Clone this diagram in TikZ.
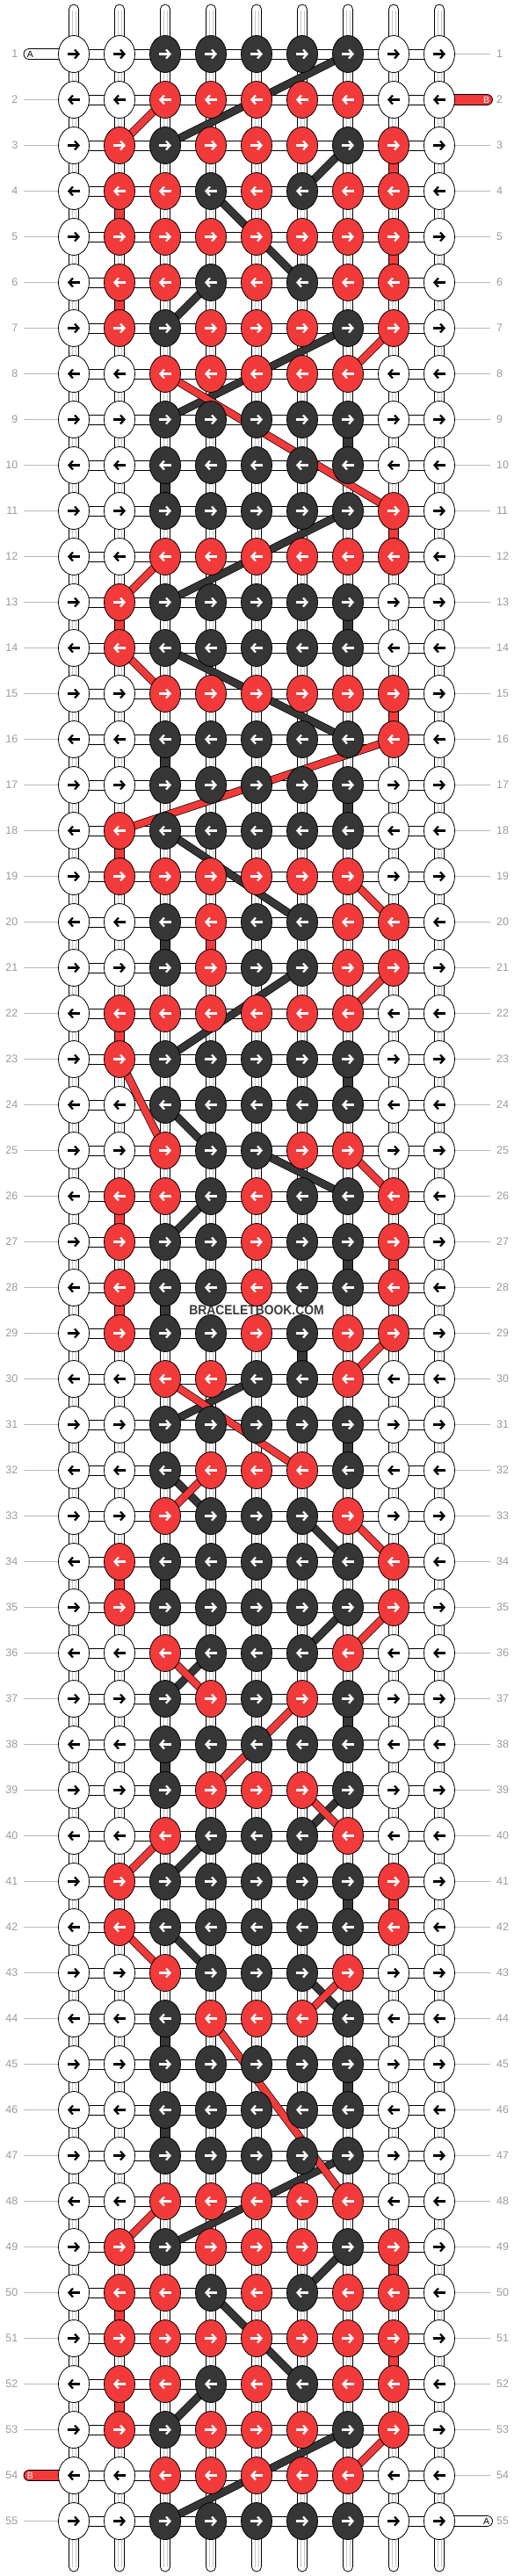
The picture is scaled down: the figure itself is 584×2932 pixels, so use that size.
\documentclass[tikz,border=0pt]{standalone}
\usepackage{fontspec}
\setmainfont{Liberation Sans}
\usetikzlibrary{shapes.geometric,arrows.meta}
\definecolor{bbred}{HTML}{F23A3A}
\definecolor{bbdark}{HTML}{363636}
\definecolor{lblgray}{HTML}{9A9A9A}
\definecolor{markgray}{HTML}{3C3C3C}
\pgfdeclarelayer{back}
\pgfdeclarelayer{mid}
\pgfsetlayers{back,mid,main}
\tikzset{
  knot/.style={ellipse,draw=black,line width=0.8pt,minimum width=35pt,minimum height=42pt,inner sep=0pt},
  knotw/.style={fill=white}, knotr/.style={fill=bbred}, knotd/.style={fill=bbdark},
  arrw/.style={draw=black}, arrr/.style={draw=white}, arrd/.style={draw=white},
  dir/.style={line width=2.2pt,-{Straight Barb[length=4.5pt,width=10pt]}},
  rod/.style={draw=black,line width=0.8pt,fill=white},
  core/.style={draw=black!22,line width=0.6pt},
  vlink/.style={draw=black,line width=0.8pt},
  strandr/.style={draw=black,line width=0.7pt,double=bbred,double distance=7.6pt},
  strandd/.style={draw=black,line width=0.7pt,double=bbdark,double distance=7.6pt},
  tail/.style={draw=black,line width=0.8pt,rounded corners=6pt},
  tailtxt/.style={font=\fontsize{10.5}{10.5}\selectfont,inner sep=0pt},
  lbl/.style={text=lblgray,font=\fontsize{12.5}{12.5}\selectfont,inner sep=0pt},
  lblline/.style={draw=black!28,line width=0.9pt},
}
\begin{document}
\begin{tikzpicture}[x=1pt,y=-1pt]
\useasboundingbox (0,0) rectangle (584,2932);
% knots, one list per row
\foreach \knots [count=\r] in {
 {w,w,d,d,d,d,d,w,w},{w,w,r,r,r,r,r,w,w},{w,r,d,r,r,r,d,r,w},{w,r,r,d,r,d,r,r,w},
 {w,r,r,r,r,r,r,r,w},{w,r,r,d,r,d,r,r,w},{w,r,d,r,r,r,d,r,w},{w,w,r,r,r,r,r,w,w},
 {w,w,d,d,d,d,d,w,w},{w,w,d,d,d,d,d,w,w},{w,w,d,d,d,d,d,r,w},{w,w,r,r,r,r,r,r,w},
 {w,r,d,d,d,d,d,w,w},{w,r,d,d,d,d,d,w,w},{w,w,r,r,r,r,r,r,w},{w,w,d,d,d,d,d,r,w},
 {w,w,d,d,d,d,d,w,w},{w,r,d,d,d,d,d,w,w},{w,r,r,r,r,r,r,w,w},{w,w,d,r,d,d,r,r,w},
 {w,w,d,r,d,d,r,r,w},{w,r,r,r,r,r,r,w,w},{w,r,d,d,d,d,d,w,w},{w,w,d,d,d,d,d,w,w},
 {w,w,r,d,d,r,r,w,w},{w,r,r,d,r,d,d,r,w},{w,r,d,d,r,d,d,r,w},{w,r,d,d,r,d,d,r,w},
 {w,r,d,d,r,d,r,r,w},{w,w,r,r,d,d,r,w,w},{w,w,d,d,d,d,d,w,w},{w,w,d,r,r,r,d,w,w},
 {w,w,r,d,d,d,r,w,w},{w,r,d,d,d,d,d,r,w},{w,r,d,d,d,d,d,r,w},{w,w,r,d,d,d,r,w,w},
 {w,w,d,r,d,r,d,w,w},{w,w,d,d,d,d,d,w,w},{w,w,d,r,r,r,d,w,w},{w,w,r,d,d,d,r,w,w},
 {w,r,d,d,d,d,d,r,w},{w,r,d,d,d,d,d,r,w},{w,w,r,d,d,d,r,w,w},{w,w,d,r,r,r,d,w,w},
 {w,w,d,d,d,d,d,w,w},{w,w,d,d,d,d,d,w,w},{w,w,d,d,d,d,d,w,w},{w,w,r,r,r,r,r,w,w},
 {w,r,d,r,r,r,d,r,w},{w,r,r,d,r,d,r,r,w},{w,r,r,r,r,r,r,r,w},{w,r,r,d,r,d,r,r,w},
 {w,r,d,r,r,r,d,r,w},{w,w,r,r,r,r,r,w,w},{w,w,d,d,d,d,d,w,w}}{
  \foreach \k [count=\c] in \knots {
    \node[knot,knot\k] (k-\r-\c) at ({84+52*(\c-1)},{61.5+52*(\r-1)}) {};
    \ifodd\r\relax
      \draw[dir,arr\k] (k-\r-\c.center) ++(-7,0) -- ++(14,0);
    \else
      \draw[dir,arr\k] (k-\r-\c.center) ++(7,0) -- ++(-14,0);
    \fi
  }
}
\begin{pgfonlayer}{back}
\foreach \c in {1,...,9}{
  \draw[rod,rounded corners=5.5pt] (k-1-\c.center) ++(-5.5,-56.5) rectangle ++(11,2922);
  \draw[core] (k-1-\c.center) ++(-1.8,-50) -- ++(0,2910);
  \draw[core] (k-1-\c.center) ++(1.8,-50) -- ++(0,2910);
}
\foreach \r in {1,...,55}
  \draw[rod] ([yshift=5.5pt]k-\r-1.center) rectangle ([yshift=-5.5pt]k-\r-9.center);
\foreach \r/\c/\col [evaluate=\r as \rn using int(\r+1)] in {
  3/8/bbred,4/2/bbred,5/8/bbred,6/2/bbred,9/7/bbdark,10/3/bbdark,11/8/bbred,
  13/2/bbred,13/7/bbdark,15/8/bbred,16/3/bbdark,17/7/bbdark,18/2/bbred,
  20/3/bbdark,20/4/bbred,22/2/bbred,23/7/bbdark,26/2/bbred,27/7/bbdark,
  27/8/bbred,28/2/bbred,28/3/bbdark,29/6/bbdark,31/7/bbdark,34/2/bbred,
  34/3/bbdark,37/7/bbdark,38/3/bbdark,41/7/bbdark,41/8/bbred,44/3/bbdark,
  45/7/bbdark,46/3/bbdark,49/8/bbred,50/2/bbred,51/8/bbred,52/2/bbred}
  \draw[vlink,fill=\col] ([xshift=-5.5pt]k-\r-\c.center) rectangle ([xshift=5.5pt]k-\rn-\c.center);
% loose ends
\coordinate (endA) at (27,61.5);
\coordinate (endB) at (560.5,113.5);
\coordinate (endBb) at (27,2817.5);
\coordinate (endAb) at (560.5,2869.5);
\draw[tail,fill=white] ([yshift=6pt]endA) rectangle ([yshift=-6pt]k-1-1.center);
\draw[tail,fill=bbred] ([yshift=6pt]k-2-9.center) rectangle ([yshift=-6pt]endB);
\draw[tail,fill=bbred] ([yshift=6pt]endBb) rectangle ([yshift=-6pt]k-54-1.center);
\draw[tail,fill=white] ([yshift=6pt]k-55-9.center) rectangle ([yshift=-6pt]endAb);
\node[tailtxt,text=black] (tA) at (34.5,61.5) {A};
\node[tailtxt,text=white] (tB) at (553.5,113.5) {B};
\node[tailtxt,text=white] (tBb) at (34.5,2817.5) {B};
\node[tailtxt,text=black] (tAb) at (553.5,2869.5) {A};
\end{pgfonlayer}
\begin{pgfonlayer}{mid}
\foreach \a/\b/\c/\d in {1/7/3/3,3/7/4/6,4/4/6/6,6/4/7/3,7/7/9/3,11/7/13/3,
  14/3/16/7,18/3/20/6,21/6/23/3,24/3/25/4,25/5/26/7,26/4/27/3,30/5/31/3,
  32/3/33/4,33/6/34/7,35/7/36/6,36/4/37/3,39/7/40/6,40/4/41/3,42/3/43/4,
  43/6/44/7,47/7/49/3,49/7/50/6,50/4/52/6,52/4/53/3,53/7/55/3}
  \draw[strandd] (k-\a-\b.center) -- (k-\c-\d.center);
\foreach \a/\b/\c/\d in {2/3/3/2,7/8/8/7,8/3/11/8,12/3/13/2,14/2/15/3,
  16/8/18/2,19/7/20/8,21/8/22/7,23/2/25/3,25/7/26/8,29/8/30/7,30/3/32/6,
  32/4/33/3,33/7/34/8,35/8/36/7,36/3/37/4,37/6/39/4,39/6/40/7,40/3/41/2,
  42/2/43/3,43/7/44/6,44/4/48/7,48/3/49/2,53/8/54/7}
  \draw[strandr] (k-\a-\b.center) -- (k-\c-\d.center);
\node[fill=white,inner sep=1pt,text=markgray,xscale=0.9,
  font=\bfseries\fontsize{15.4}{16}\selectfont] (mark) at (292,1491.5) {BRACELETBOOK.COM};
\end{pgfonlayer}
% row numbers
\foreach \r in {1,...,55}{
  \node[lbl,anchor=east] (nl-\r) at (20.5,{61.5+52*(\r-1)}) {\r};
  \node[lbl,anchor=west] (nr-\r) at (565,{61.5+52*(\r-1)}) {\r};
}
\foreach \r in {2,...,53,55}
  \draw[lblline] ([xshift=6.5pt]nl-\r.east) -- (k-\r-1.west);
\foreach \r in {1,3,4,...,54}
  \draw[lblline] (k-\r-9.east) -- ([xshift=-7pt]nr-\r.west);
\end{tikzpicture}
\end{document}
